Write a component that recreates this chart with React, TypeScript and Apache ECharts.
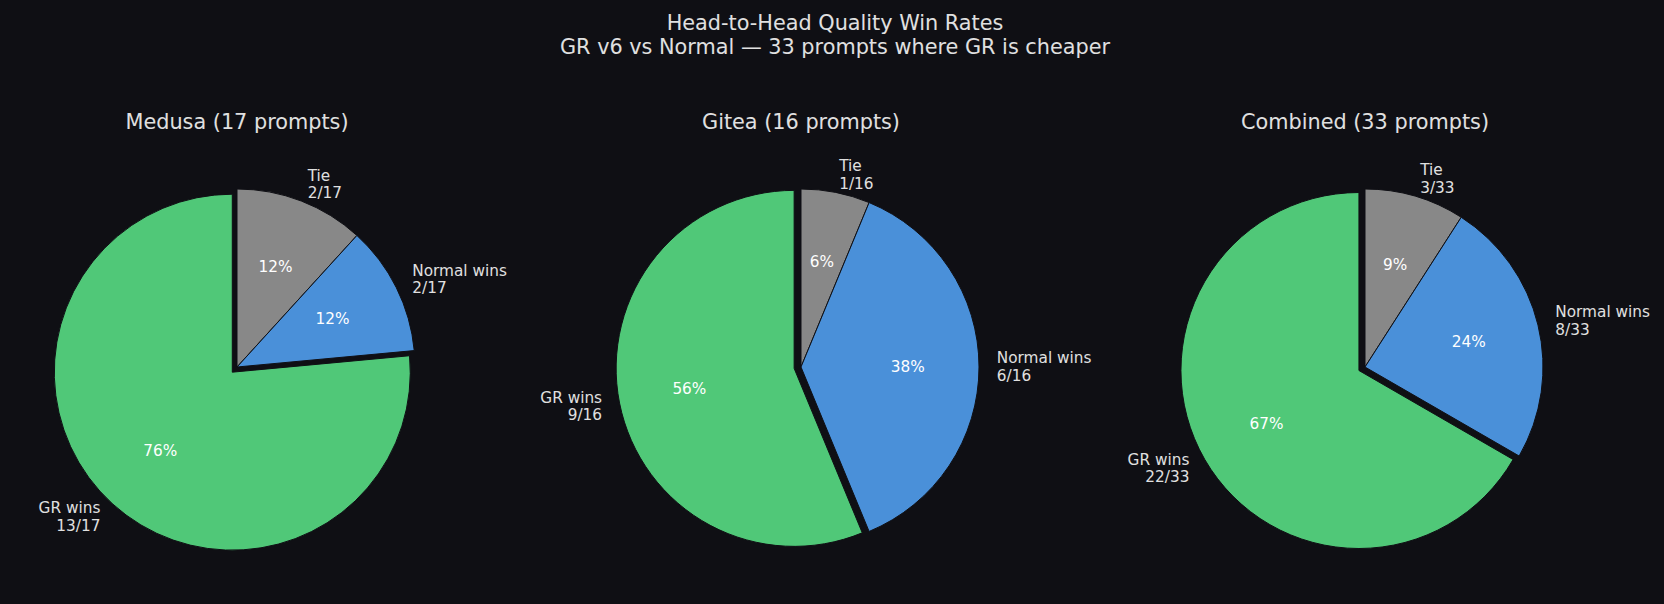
import { useEffect, useRef } from "react";
import * as echarts from "echarts";

// slice order: drawn clockwise from 12 o'clock
const CATEGORIES = ["Tie", "Normal wins", "GR wins"];
const PANEL_TITLES = ["Medusa (17 prompts)", "Gitea (16 prompts)", "Combined (33 prompts)"];
const MEDUSA = [2, 2, 13];
const GITEA = [1, 6, 9];
const COMBINED = [3, 8, 22];
const PANELS = [MEDUSA, GITEA, COMBINED];
// only the "GR wins" slice is pulled out
const EXPLODED = [false, false, true];

const SLICE_COLORS = ["#888888", "#4a90d9", "#50c878"];
const BG = "#0f0f14";
const TEXT = "#e0e0e0";
const FONT = "DejaVu Sans";

const RADIUS = 178;
const CENTERS_X = [237, 801, 1365];
const CENTER_Y = 367;
const EXPLODE_PX = 7;

export default function App() {
  const chartRef = useRef<HTMLDivElement>(null);

  useEffect(() => {
    if (!chartRef.current) return;
    const chart = echarts.init(chartRef.current, null, { renderer: "svg" });

    const series: any[] = [];
    PANELS.forEach((values, p) => {
      const total = values.reduce((a, b) => a + b, 0);
      const cx = CENTERS_X[p];
      const data = values.map((v, i) => ({
        name: CATEGORIES[i],
        value: v,
        selected: EXPLODED[i],
        itemStyle: { color: SLICE_COLORS[i] },
      }));

      // the wedges, with "name\nn/total" outside (matplotlib labeldistance 1.1)
      series.push({
        type: "pie",
        center: [cx, CENTER_Y],
        radius: RADIUS,
        startAngle: 90,
        clockwise: true,
        selectedMode: "multiple",
        selectedOffset: EXPLODE_PX,
        avoidLabelOverlap: false,
        silent: true,
        itemStyle: { borderColor: BG, borderWidth: 1 },
        label: {
          show: true,
          position: "outside",
          distanceToLabelLine: 0,
          color: TEXT,
          fontFamily: FONT,
          fontSize: 15.3,
          lineHeight: 17.5,
          formatter: (d: any) => `${d.name}\n${d.value}/${total}`,
        },
        labelLine: { show: false, length: RADIUS * 0.1, length2: 0 },
        data,
      });

      // invisible copy that only carries the percentages at 0.6 r
      series.push({
        type: "pie",
        center: [cx, CENTER_Y],
        radius: (RADIUS * 0.6 - 3) * 2,
        startAngle: 90,
        clockwise: true,
        selectedMode: "multiple",
        selectedOffset: EXPLODE_PX,
        avoidLabelOverlap: false,
        silent: true,
        itemStyle: { color: "rgba(0,0,0,0)", borderWidth: 0 },
        label: {
          show: true,
          position: "inside",
          color: "#ffffff",
          fontFamily: FONT,
          fontSize: 15.3,
          formatter: (d: any) => `${Math.round((d.value / total) * 100)}%`,
        },
        labelLine: { show: false },
        data: values.map((v, i) => ({
          name: CATEGORIES[i],
          value: v,
          selected: EXPLODED[i],
          itemStyle: { color: "rgba(0,0,0,0)" },
        })),
      });
    });

    const titles: any[] = [
      {
        text: "Head-to-Head Quality Win Rates\nGR v6 vs Normal \u2014 33 prompts where GR is cheaper",
        left: 835,
        top: 35,
        padding: 0,
        textAlign: "center",
        textVerticalAlign: "middle",
        textStyle: {
          color: TEXT,
          fontFamily: FONT,
          fontSize: 20.8,
          fontWeight: "normal",
          lineHeight: 23.5,
        },
      },
      ...PANEL_TITLES.map((t, p) => ({
        text: t,
        left: CENTERS_X[p],
        top: 122,
        padding: 0,
        textAlign: "center",
        textVerticalAlign: "middle",
        textStyle: {
          color: TEXT,
          fontFamily: FONT,
          fontSize: 20.8,
          fontWeight: "normal",
        },
      })),
    ];

    chart.setOption({
      animation: false,
      backgroundColor: BG,
      title: titles,
      series,
    });

    return () => {
      chart.dispose();
    };
  }, []);

  return (
    <div
      ref={chartRef}
      style={{ position: "fixed", left: 0, top: 0, width: 1664, height: 604 }}
    />
  );
}
